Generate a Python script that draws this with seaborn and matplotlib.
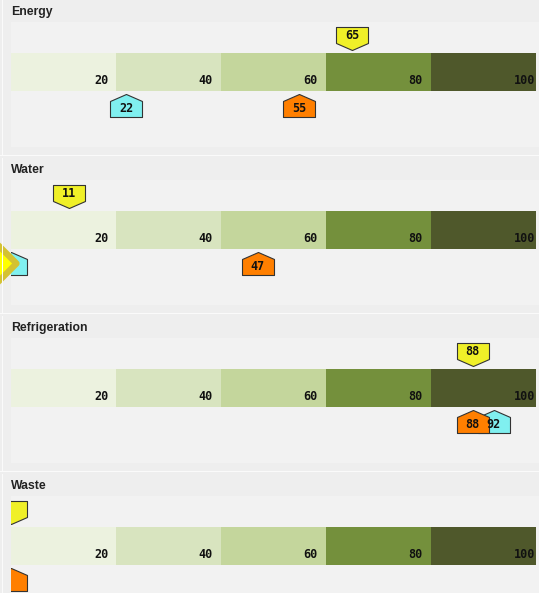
import numpy as np
import seaborn as sns
import matplotlib.pyplot as plt
from matplotlib.path import Path
from matplotlib.patches import Rectangle

# data
panels = ["Energy", "Water", "Refrigeration", "Waste"]
band_ends = [20, 40, 60, 80, 100]
band_colors = ["#ecf2df", "#d8e4bf", "#c4d69c", "#74903c", "#4f582b"]
yellow_vals = [65, 11, 88, 0]
cyan_vals = [22, 0, 92, None]
orange_vals = [55, 47, 88, 0]

W, H = 539, 593
STEP = 158          # panel height in px
X0 = 11             # left of plot area
PX_PER_UNIT = 5.245


def make_marker(verts):
    # verts given in pixels around the anchor, returns path + size in points
    verts = np.asarray(verts, dtype=float)
    codes = [Path.MOVETO] + [Path.LINETO] * (len(verts) - 1) + [Path.CLOSEPOLY]
    path = Path(np.vstack([verts, verts[:1]]), codes)
    size = 2 * np.abs(verts).max() * 72 / 100
    return path, size


down_marker, down_size = make_marker([(0, 3), (16, 10), (16, 26), (-16, 26), (-16, 10)])
up_marker, up_size = make_marker([(0, -3), (16, -10), (16, -26), (-16, -26), (-16, -10)])
diamond, diamond_size = make_marker([(5, -14), (-15, 6), (-35, -14), (-15, -34)])

sns.set_style("white")
plt.rcParams["font.family"] = ["Liberation Sans", "DejaVu Sans"]

fig = plt.figure(figsize=(W / 100, H / 100), dpi=100)
fig.patch.set_facecolor("#eeeeee")

mono = dict(family="DejaVu Sans Mono", weight="bold", size=8.5, color="#111111")


def add_marker(ax, val, y, path, size, color, dy):
    ax.scatter([val], [y], marker=path, s=size ** 2, color=color,
               edgecolors="#333333", linewidths=0.8, zorder=5)
    if val > 0:
        ax.annotate(str(val), xy=(val, y), xytext=(0, dy), textcoords="offset pixels",
                    ha="center", va="center", zorder=6, annotation_clip=True, **mono)
    return ax


for i, name in enumerate(panels):
    top = i * STEP
    # panel frame lines
    fig.add_artist(Rectangle((2 / W, 1 - (top + 156) / H), 1 / W, 156 / H,
                             transform=fig.transFigure, color="#fafafa", lw=0))
    fig.add_artist(Rectangle((0, 1 - (top + 156) / H), 1, 1.2 / H,
                             transform=fig.transFigure, color="#fafafa", lw=0))
    fig.text(X0 / W, 1 - (top + 12) / H, name, ha="left", va="center",
             fontsize=8.8, fontweight="bold", color="#222222")

    ax = fig.add_axes([X0 / W, 1 - (top + 147) / H, (W - X0) / W, 125 / H])
    ax.set_facecolor("#f2f2f2")
    for end, c in reversed(list(zip(band_ends, band_colors))):
        sns.barplot(x=[end], y=["bar"], color=c, saturation=1, width=0.8,
                    linewidth=0, orient="h", ax=ax)
    for end in band_ends:
        ax.annotate(str(end), xy=(end, 0.4), xytext=(-22, 10), textcoords="offset pixels",
                    ha="left", va="center", zorder=4, **mono)

    if cyan_vals[i] is not None:
        add_marker(ax, cyan_vals[i], 0.4, up_marker, up_size, "#80f0f0", -18)
    if orange_vals[i] is not None:
        add_marker(ax, orange_vals[i], 0.4, up_marker, up_size, "#ff7f00", -18)
    add_marker(ax, yellow_vals[i], -0.4, down_marker, down_size, "#f0f028", 18)

    if name == "Water":
        # selection highlight next to the clipped cyan marker
        ax.scatter([cyan_vals[i]], [0.4], marker=diamond, s=diamond_size ** 2,
                   color="#ffff00", edgecolors="#d4c232", linewidths=4.5, zorder=7,
                   clip_on=False)

    ax.set_xlim(0, (W - X0) / PX_PER_UNIT)
    ax.set_ylim(75 / 46.75, -50 / 46.75)
    ax.set(xlabel="", ylabel="", xticks=[], yticks=[])
    sns.despine(ax=ax, left=True, bottom=True)

fig.savefig("out.png", dpi=100, facecolor=fig.get_facecolor())
